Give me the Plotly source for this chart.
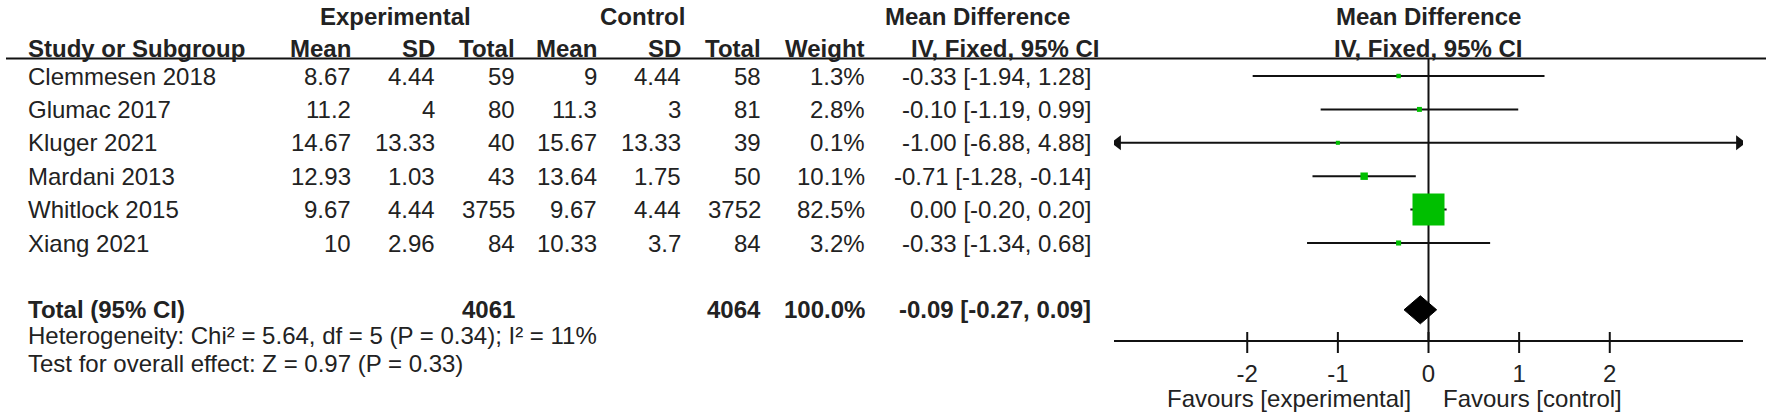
import plotly.graph_objects as go

# ---------------- data ----------------
studies = ["Clemmesen 2018", "Glumac 2017", "Kluger 2021", "Mardani 2013", "Whitlock 2015", "Xiang 2021"]
exp_mean = [8.67, 11.2, 14.67, 12.93, 9.67, 10]
exp_sd = [4.44, 4, 13.33, 1.03, 4.44, 2.96]
exp_n = [59, 80, 40, 43, 3755, 84]
ctl_mean = [9, 11.3, 15.67, 13.64, 9.67, 10.33]
ctl_sd = [4.44, 3, 13.33, 1.75, 4.44, 3.7]
ctl_n = [58, 81, 39, 50, 3752, 84]
weights = [1.3, 2.8, 0.1, 10.1, 82.5, 3.2]
md = [-0.33, -0.10, -1.00, -0.71, 0.00, -0.33]
ci_lo = [-1.94, -1.19, -6.88, -1.28, -0.20, -1.34]
ci_hi = [1.28, 0.99, 4.88, -0.14, 0.20, 0.68]

total_label = "Total (95% CI)"
total_exp_n = 4061
total_ctl_n = 4064
total_weight = 100.0
total_md = -0.09
total_lo = -0.27
total_hi = 0.09
heterogeneity = "Heterogeneity: Chi² = 5.64, df = 5 (P = 0.34); I² = 11%"
overall = "Test for overall effect: Z = 0.97 (P = 0.33)"

tick_vals = [-2, -1, 0, 1, 2]
tick_text = ["-2", "-1", "0", "1", "2"]
favours_left = "Favours [experimental]"
favours_right = "Favours [control]"

# ---------------- layout constants ----------------
W, H = 1772, 419
FONT = "Liberation Sans, Arial, sans-serif"
FS = 24
TXT = "#222222"
LINE = "#111111"
GREEN = "#00BF00"
AX = 3.47                     # half-range of forest axis
ROW0_PX, ROW_PX = 76.0, 33.4  # pixel centre of first row, row pitch


def row_of(px):
    return (px - ROW0_PX) / ROW_PX


Y_TOP, Y_BOT = row_of(0), row_of(H)
Y_HDR1, Y_HDR2, Y_RULE = row_of(16), row_of(48), row_of(58.5)
Y_TOTAL = 7
Y_HET, Y_TEST = row_of(335), row_of(363)
AXIS_PX = 341
Y_AXIS = row_of(AXIS_PX)
Y_TICK = row_of(342.5)
Y_FAV = row_of(398)

# column right edges (px)
col_right = {
    "em": 353, "es": 437, "en": 517,
    "cm": 599, "cs": 683, "cn": 763,
    "w": 867, "ci": 1093,
}
STUDY_LEFT = 26

fig = go.Figure()

# ---------- forest plot marks ----------
# line of no effect
fig.add_trace(go.Scatter(x=[0, 0], y=[Y_RULE, Y_AXIS], mode="lines",
                         line=dict(color=LINE, width=2), hoverinfo="skip", showlegend=False))

# tick marks crossing the axis line
fig.add_trace(go.Scatter(x=tick_vals, y=[Y_TICK] * len(tick_vals), mode="markers",
                         marker=dict(symbol="line-ns-open", size=15, color=LINE, opacity=1,
                                     line=dict(color=LINE, width=2)),
                         hoverinfo="skip", showlegend=False))

# arrow heads for CIs running past the axis
for i in range(len(studies)):
    if ci_lo[i] < -AX:
        fig.add_trace(go.Scatter(x=[-AX + 0.04], y=[i], mode="markers",
                                 marker=dict(symbol="triangle-left", size=13, color=LINE, opacity=1),
                                 hoverinfo="skip", showlegend=False))
    if ci_hi[i] > AX:
        fig.add_trace(go.Scatter(x=[AX - 0.04], y=[i], mode="markers",
                                 marker=dict(symbol="triangle-right", size=13, color=LINE, opacity=1),
                                 hoverinfo="skip", showlegend=False))

# squares (size grows with weight) with CI as horizontal error bars beneath them
wmax = max(weights)
sizes = [4 + 28 * w / wmax for w in weights]
fig.add_trace(go.Scatter(
    x=md, y=list(range(len(studies))), mode="markers",
    marker=dict(symbol="square", size=sizes, color=GREEN, opacity=1, line=dict(width=0)),
    error_x=dict(type="data", symmetric=False,
                 array=[h - m for h, m in zip(ci_hi, md)],
                 arrayminus=[m - l for m, l in zip(md, ci_lo)],
                 color=LINE, thickness=2, width=0),
    hoverinfo="skip", showlegend=False))

# pooled diamond
DH = 0.42
fig.add_trace(go.Scatter(x=[total_lo, total_md, total_hi, total_md, total_lo],
                         y=[Y_TOTAL, Y_TOTAL - DH, Y_TOTAL, Y_TOTAL + DH, Y_TOTAL],
                         mode="lines", fill="toself", fillcolor="#000000",
                         line=dict(color="#000000", width=1), hoverinfo="skip", showlegend=False))

# ---------- text ----------
ann = []


def t(x, y, text, anchor="right", bold=False, xref="paper", xshift=0, size=FS):
    ann.append(dict(x=x, y=y, xref=xref, yref="y", text=f"<b>{text}</b>" if bold else text,
                    showarrow=False, xanchor=anchor, yanchor="middle", xshift=xshift,
                    font=dict(family=FONT, size=size, color=TXT)))


def fmt(v):
    return f"{v:g}"


t(318 / W, Y_HDR1, "Experimental", "left", True)
t(598 / W, Y_HDR1, "Control", "left", True)
t(883 / W, Y_HDR1, "Mean Difference", "left", True)
t(0, Y_HDR1, "Mean Difference", "center", True, xref="x")

t(STUDY_LEFT / W, Y_HDR2, "Study or Subgroup", "left", True)
for key, lab in [("em", "Mean"), ("es", "SD"), ("en", "Total"),
                 ("cm", "Mean"), ("cs", "SD"), ("cn", "Total"), ("w", "Weight")]:
    t(col_right[key] / W, Y_HDR2, lab, "right", True)
t(1102 / W, Y_HDR2, "IV, Fixed, 95% CI", "right", True)
t(0, Y_HDR2, "IV, Fixed, 95% CI", "center", True, xref="x")

for i, s in enumerate(studies):
    t(STUDY_LEFT / W, i, s, "left")
    t(col_right["em"] / W, i, fmt(exp_mean[i]))
    t(col_right["es"] / W, i, fmt(exp_sd[i]))
    t(col_right["en"] / W, i, str(exp_n[i]))
    t(col_right["cm"] / W, i, fmt(ctl_mean[i]))
    t(col_right["cs"] / W, i, fmt(ctl_sd[i]))
    t(col_right["cn"] / W, i, str(ctl_n[i]))
    t(col_right["w"] / W, i, f"{weights[i]:.1f}%")
    t(col_right["ci"] / W, i, f"{md[i]:.2f} [{ci_lo[i]:.2f}, {ci_hi[i]:.2f}]")

t(STUDY_LEFT / W, Y_TOTAL, total_label, "left", True)
t(col_right["en"] / W, Y_TOTAL, str(total_exp_n), "right", True)
t(col_right["cn"] / W, Y_TOTAL, str(total_ctl_n), "right", True)
t(col_right["w"] / W, Y_TOTAL, f"{total_weight:.1f}%", "right", True)
t(col_right["ci"] / W, Y_TOTAL, f"{total_md:.2f} [{total_lo:.2f}, {total_hi:.2f}]", "right", True)

t(STUDY_LEFT / W, Y_HET, heterogeneity, "left")
t(STUDY_LEFT / W, Y_TEST, overall, "left")

t(0, Y_FAV, favours_left, "right", xref="x", xshift=-16)
t(0, Y_FAV, favours_right, "left", xref="x", xshift=12)

fig.update_layout(
    width=W, height=H,
    margin=dict(l=0, r=0, t=0, b=0),
    paper_bgcolor="white", plot_bgcolor="rgba(0,0,0,0)",
    annotations=ann,
    shapes=[dict(type="line", xref="paper", yref="y", x0=6 / W, x1=1766 / W,
                 y0=Y_RULE, y1=Y_RULE, line=dict(color=LINE, width=2))],
    xaxis=dict(domain=[1114 / W, 1743 / W], range=[-AX, AX], anchor="free",
               position=1 - AXIS_PX / H, showline=True, linecolor=LINE, linewidth=2,
               ticks="", tickvals=tick_vals, ticktext=tick_text, ticklabelstandoff=11,
               tickfont=dict(family=FONT, size=FS, color=TXT),
               showgrid=False, zeroline=False, fixedrange=True),
    yaxis=dict(domain=[0, 1], range=[Y_BOT, Y_TOP], visible=False, fixedrange=True),
    showlegend=False,
)

fig.write_html("out.html", config={"displayModeBar": False},
               post_script="document.body.style.margin='0';document.body.style.overflow='hidden';")
